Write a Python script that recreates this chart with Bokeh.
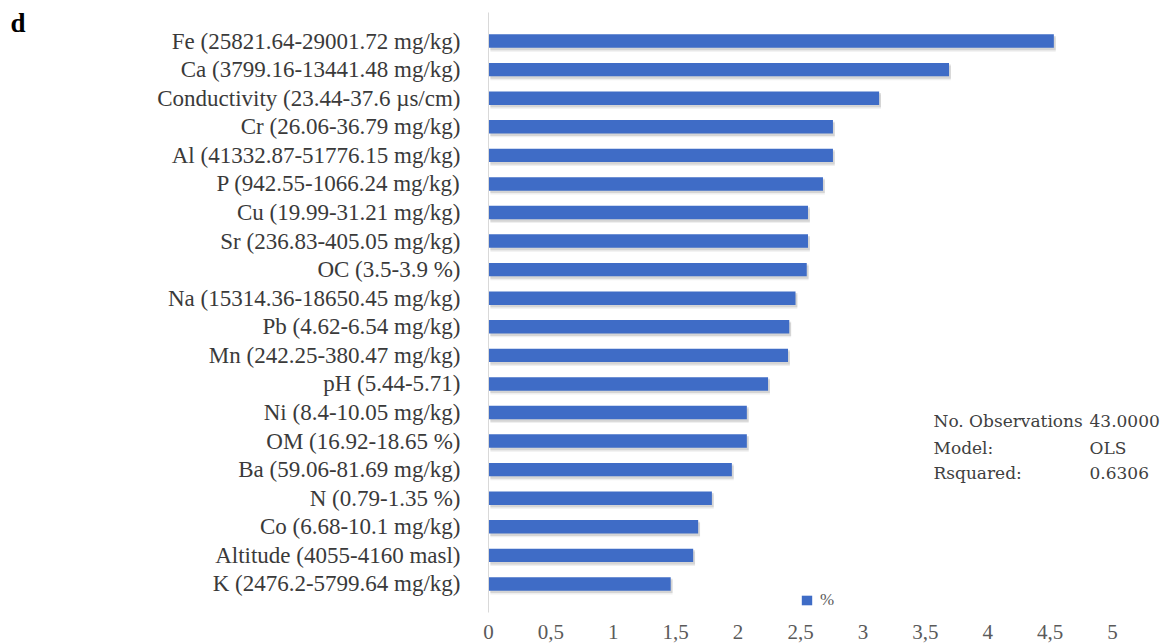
from bokeh.plotting import figure
from bokeh.models import (ColumnDataSource, FactorRange, Range1d, FixedTicker,
                          Label, Legend, LegendItem, CategoricalAxis,
                          CustomLabelingPolicy)
from bokeh.transform import dodge
from bokeh.embed import file_html
from bokeh.resources import INLINE

# Variable importance (%) with the observed range of each variable
categories = [
    "Fe (25821.64-29001.72 mg/kg)",
    "Ca (3799.16-13441.48 mg/kg)",
    "Conductivity (23.44-37.6 µs/cm)",
    "Cr (26.06-36.79 mg/kg)",
    "Al (41332.87-51776.15 mg/kg)",
    "P (942.55-1066.24 mg/kg)",
    "Cu (19.99-31.21 mg/kg)",
    "Sr (236.83-405.05 mg/kg)",
    "OC (3.5-3.9 %)",
    "Na (15314.36-18650.45 mg/kg)",
    "Pb (4.62-6.54 mg/kg)",
    "Mn (242.25-380.47 mg/kg)",
    "pH (5.44-5.71)",
    "Ni (8.4-10.05 mg/kg)",
    "OM (16.92-18.65 %)",
    "Ba (59.06-81.69 mg/kg)",
    "N (0.79-1.35 %)",
    "Co (6.68-10.1 mg/kg)",
    "Altitude (4055-4160 masl)",
    "K (2476.2-5799.64 mg/kg)",
]
percent = [4.53, 3.69, 3.13, 2.76, 2.76, 2.68, 2.56, 2.56, 2.55, 2.46,
           2.41, 2.40, 2.24, 2.07, 2.07, 1.95, 1.79, 1.68, 1.64, 1.46]

tick_values = [0, 0.5, 1, 1.5, 2, 2.5, 3, 3.5, 4, 4.5, 5]
tick_labels = ["0", "0,5", "1", "1,5", "2", "2,5", "3", "3,5", "4", "4,5", "5"]

stats_names = ["No. Observations", "Model:", "Rsquared:"]
stats_values = ["43.0000", "OLS", "0.6306"]

panel_letter = "d"

source = ColumnDataSource(data=dict(cat=categories, pct=percent))

SERIF = "'Liberation Serif', 'Times New Roman', serif"

W, H = 1170, 644
LEFT, TOP, BOTTOM = 488, 12, 32
frame_w = W - LEFT
unit_px = 124.8

p = figure(width=W, height=H, output_backend="svg", toolbar_location=None,
           y_range=FactorRange(factors=categories[::-1], range_padding=0.5,
                               range_padding_units="absolute"),
           x_range=Range1d(0, frame_w / unit_px),
           min_border_left=LEFT, min_border_right=0,
           min_border_top=TOP, min_border_bottom=BOTTOM)
p.outline_line_color = None
p.grid.visible = False
p.background_fill_color = "white"
p.border_fill_color = "white"

# soft drop shadow under each bar
for off, alpha in ((0.07, 0.22), (0.12, 0.12)):
    p.hbar(y=dodge("cat", -off, range=p.y_range), right=dodge("pct", 0.015),
           left=0.015, height=0.5, source=source,
           fill_color="#7a7a7a", fill_alpha=alpha, line_color=None)

bars = p.hbar(y="cat", right="pct", left=0, height=0.47, source=source,
              fill_color="#3f6cc6", line_color=None)

# x axis: labels only
xa = p.xaxis[0]
xa.ticker = FixedTicker(ticks=tick_values)
xa.major_label_overrides = {v: s for v, s in zip(tick_values, tick_labels)}
xa.axis_line_color = None
xa.major_tick_line_color = None
xa.minor_tick_line_color = None
xa.major_label_standoff = 6
xa.major_label_text_font = SERIF
xa.major_label_text_font_size = "21px"
xa.major_label_text_color = "#5a5a5a"

# y axis: category names
ya = p.yaxis[0]
ya.axis_line_color = "#d9d9d9"
ya.major_tick_line_color = None
ya.minor_tick_line_color = None
ya.major_label_standoff = 22
ya.major_label_text_font = SERIF
ya.major_label_text_font_size = "23px"
ya.major_label_text_color = "#3a3a3a"

# outer left axis that only carries the panel letter near the top edge;
# the blank spacer factor keeps the letter high and is never labelled
p.extra_y_ranges = {"letter": FactorRange(factors=[" ", panel_letter],
                                          factor_padding=28, range_padding=0)}
only_letter = CustomLabelingPolicy(code="""
    for (const i of indices) {
        if (i == 0) indices.unset(i)
    }
    return indices
""")
letter_axis = CategoricalAxis(y_range_name="letter",
                              major_label_policy=only_letter,
                              axis_line_color=None, major_tick_line_color=None,
                              minor_tick_line_color=None,
                              major_label_standoff=123,
                              major_label_text_font=SERIF,
                              major_label_text_font_style="bold",
                              major_label_text_font_size="27px",
                              major_label_text_color="black")
p.add_layout(letter_axis, "left")

legend = Legend(items=[LegendItem(label="%", renderers=[bars])],
                location=(312, 2), orientation="horizontal",
                padding=0, margin=0, spacing=0,
                glyph_width=13, glyph_height=12, label_height=12,
                label_standoff=7,
                label_text_font=SERIF,
                label_text_font_size="17px", label_text_color="#5a5a5a",
                background_fill_alpha=0, border_line_color=None)
p.add_layout(legend, "center")

# model summary block
frame_bottom = H - BOTTOM
rows_y = [420, 447, 472]
for name, val, yy in zip(stats_names, stats_values, rows_y):
    for txt, xx in ((name, 933), (val, 1089)):
        p.add_layout(Label(x=xx - LEFT, y=frame_bottom - yy, x_units="screen",
                           y_units="screen", text=txt,
                           text_font="'DejaVu Serif', serif", text_font_size="17px",
                           text_color="#404040", text_baseline="middle",
                           text_align="left"))

open("out.html", "w").write(file_html(p, INLINE))
